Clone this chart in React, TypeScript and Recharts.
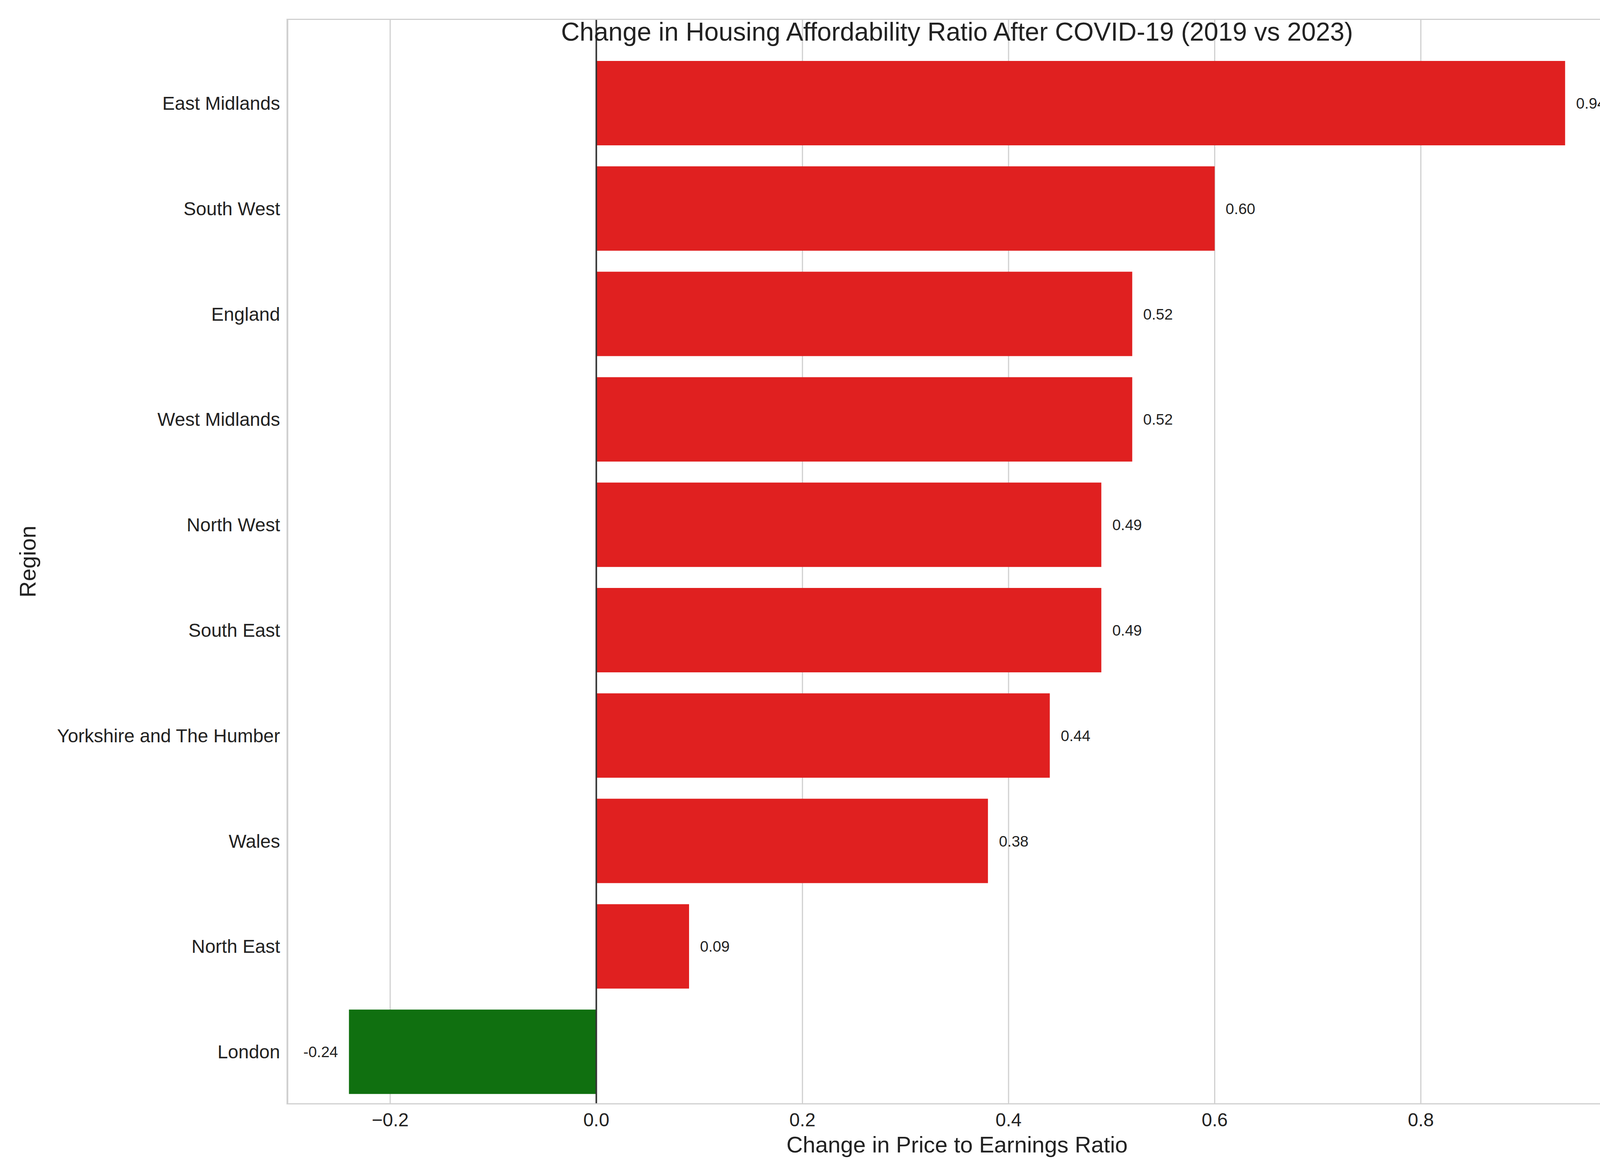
import React from 'react';
import { BarChart, Bar, XAxis, YAxis, CartesianGrid, Cell, LabelList, ReferenceLine } from 'recharts';

const regions = [
  'East Midlands',
  'South West',
  'England',
  'West Midlands',
  'North West',
  'South East',
  'Yorkshire and The Humber',
  'Wales',
  'North East',
  'London',
];
const changes = [0.94, 0.6, 0.52, 0.52, 0.49, 0.49, 0.44, 0.38, 0.09, -0.24];
const xTicks = [-0.2, 0, 0.2, 0.4, 0.6, 0.8];

const data = regions.map((region, i) => ({ region, change: changes[i] }));

const FONT = '"Liberation Sans", Arial, sans-serif';
const W = 4200;
const H = 3000;
const M = { top: 48, right: 35, bottom: 0, left: 0 };
const Y_W = 735;
const X_H = 173;

const fmtTick = (v: number) => (v < 0 ? `\u2212${Math.abs(v).toFixed(1)}` : v.toFixed(1));

const ValueLabel = (props: any) => {
  const { x, y, width, height, value } = props;
  const neg = value < 0;
  const tx = neg ? Math.min(x, x + width) - 28 : x + width + 28;
  return (
    <text x={tx} y={y + height / 2} dy={14} textAnchor={neg ? 'end' : 'start'} fontSize={39} fill="#222" fontFamily={FONT}>
      {value.toFixed(2)}
    </text>
  );
};

export default function App() {
  return (
    <div style={{ position: 'absolute', left: 0, top: 0, width: W, height: H, background: '#fff' }}>
      <BarChart width={W} height={H} data={data} layout="vertical" margin={M} barCategoryGap="10%">
        <CartesianGrid horizontal={false} stroke="#d0d0d0" strokeWidth={3} />
        <XAxis
          type="number"
          domain={[-0.3, 1.0]}
          ticks={xTicks}
          allowDataOverflow
          height={X_H}
          tickFormatter={fmtTick}
          tick={{ fontSize: 48, fill: '#222', fontFamily: FONT }}
          tickLine={false}
          axisLine={false}
          tickMargin={16}
          label={{ value: 'Change in Price to Earnings Ratio', position: 'insideBottom', offset: 50, fontSize: 58, fill: '#222', fontFamily: FONT }}
        />
        <YAxis
          type="category"
          dataKey="region"
          width={Y_W}
          padding={{ top: 81, bottom: 0 }}
          tick={{ fontSize: 48, fill: '#222', fontFamily: FONT }}
          tickLine={false}
          axisLine={false}
          tickMargin={12}
          label={{ value: 'Region', angle: -90, position: 'insideLeft', offset: 70, fontSize: 58, fill: '#222', fontFamily: FONT, style: { textAnchor: 'middle' } }}
        />
        <Bar dataKey="change" isAnimationActive={false}>
          {data.map((d) => (
            <Cell key={d.region} fill={d.change < 0 ? '#107010' : '#e02020'} />
          ))}
          <LabelList dataKey="change" content={ValueLabel} />
        </Bar>
        <ReferenceLine x={0} stroke="#333" strokeWidth={4} />
      </BarChart>
      <div
        style={{
          position: 'absolute',
          left: Y_W,
          top: M.top,
          width: W - Y_W - M.right,
          height: H - M.top - X_H,
          border: '3px solid #d0d0d0',
          boxSizing: 'border-box',
          pointerEvents: 'none',
        }}
      />
      <div
        style={{
          position: 'absolute',
          left: Y_W,
          width: W - Y_W - M.right,
          top: 81,
          transform: 'translateY(-50%)',
          textAlign: 'center',
          fontSize: 66,
          color: '#222',
          fontFamily: FONT,
        }}
      >
        Change in Housing Affordability Ratio After COVID-19 (2019 vs 2023)
      </div>
    </div>
  );
}
